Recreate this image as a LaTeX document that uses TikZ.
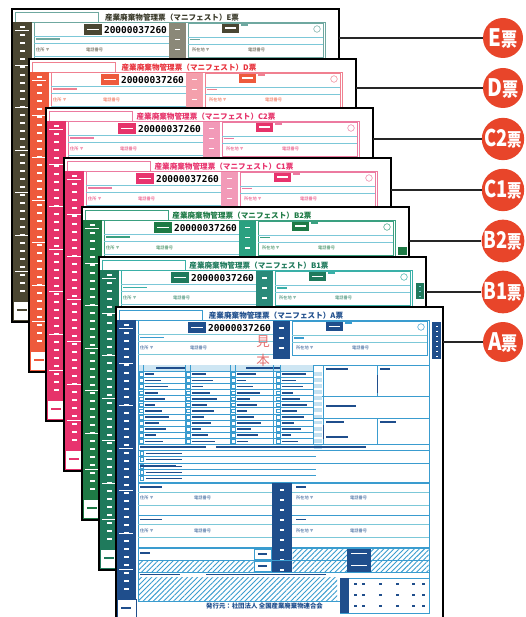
\documentclass[tikz,border=0pt]{standalone}
\usepackage{fontspec}
\usepackage{graphicx}
\newfontfamily\cjk{Noto Sans CJK JP}
\newfontfamily\digits{DejaVu Sans Mono}
\usetikzlibrary{patterns.meta}

% sheet colours: strip/labels, frame lines, title, tall column
\definecolor{mainE}{HTML}{4A4632}
\definecolor{frameE}{HTML}{6FA8A0}
\definecolor{titleE}{HTML}{3A3A2A}
\definecolor{colE}{HTML}{8A8878}
\definecolor{mainD}{HTML}{EE5A3C}
\definecolor{frameD}{HTML}{F08090}
\definecolor{titleD}{HTML}{E8323C}
\definecolor{colD}{HTML}{F4A0AC}
\definecolor{mainC2}{HTML}{E6336A}
\definecolor{mainC1}{HTML}{E8336E}
\definecolor{frameC}{HTML}{EC7AA0}
\definecolor{colC}{HTML}{F29AB8}
\definecolor{mainB2}{HTML}{1E7A45}
\definecolor{frameB2}{HTML}{3AA080}
\definecolor{colB2}{HTML}{2AA080}
\definecolor{mainB1}{HTML}{1F7A5C}
\definecolor{frameB1}{HTML}{3AB0A8}
\definecolor{colB1}{HTML}{2A8A7A}
\definecolor{mainA}{HTML}{1F4E8C}
\definecolor{frameA}{HTML}{3A9CCF}
\definecolor{cyanline}{HTML}{7CC8D8}
\definecolor{tagred}{HTML}{E8452A}
\definecolor{stampred}{HTML}{E05A5A}

\tikzset{
  sheet/.style={draw=black, line width=1.1pt, fill=white, minimum width=327pt,
    minimum height=313pt, anchor=north west, inner sep=0pt, outer sep=0pt},
  formtitle/.style={font=\cjk\bfseries\fontsize{7.6}{8}\selectfont, inner sep=0pt},
  tiny/.style={font=\cjk\fontsize{4.2}{5}\selectfont, inner sep=0pt, anchor=west},
  num/.style={font=\digits\bfseries\fontsize{9.5}{10}\selectfont, inner sep=0pt},
  tag/.style={circle, fill=tagred, minimum size=40pt, inner sep=0pt, text=white,
    font=\cjk\bfseries},
  conn/.style={draw=black!85, line width=1.3pt},
  hatch/.style={pattern={Lines[angle=45,distance=3.6pt,line width=.9pt]}, pattern color=frameA},
  footer/.style={font=\cjk\bfseries\fontsize{6.4}{7}\selectfont, inner sep=0pt, anchor=west},
}

% one manifest slip: #1,#2 top-left, #3 strip colour, #4 frame colour,
% #5 node name, #6 slip letter, #7 title colour, #8 column colour
\newcommand\manifest[8]{%
\begin{scope}[shift={(#1,#2)}]
  \node[sheet] (#5) at (0,0) {};
  \draw[#4, line width=.5pt] (3,3) rectangle (86,13);
  \node[formtitle, text=#7] at (160,8.5) {産業廃棄物管理票（マニフェスト）#6票};
  % left strip
  \fill[#3] (1,13) rectangle (20,292);
  \foreach \yy in {17,25,...,285} \fill[white] (8,\yy) rectangle (13,\yy+1.6);
  \foreach \yy in {21,56,98,141,183,226,262} \fill[white] (3,\yy) rectangle (17,\yy+1.3);
  \draw[#3, line width=.5pt] (1,292) rectangle (20,311);
  \fill[#3] (5,300) rectangle (15,301.5);
  % inner frame
  \draw[#4, line width=.6pt] (22,13) rectangle (313,294);
  % number row
  \fill[#3] (72,15) rectangle (90,26);
  \fill[white] (75,19.6) rectangle (87,21);
  \node[num] at (123.5,21) {20000037260};
  \fill[#8] (157,14) rectangle (174,52);
  \foreach \yy in {20,30,40} \fill[white] (163,\yy) rectangle (168,\yy+1.5);
  \fill[#3] (210,14) rectangle (227,24);
  \fill[white] (213,18.5) rectangle (224,20);
  \fill[#4] (229,15) rectangle (236,16.6);
  \draw[#4, line width=.5pt] (176,14) rectangle (311,48);
  \draw[#4, line width=.5pt] (305,20) circle (3.3);
  % row lines
  \draw[cyanline, line width=.6pt] (22,27.5) -- (157,27.5) (22,34) -- (157,34)
     (176,28) -- (311,28) (176,35) -- (311,35) (22,47) -- (157,47);
  \draw[#4, line width=.8pt] (22,58) -- (313,58);
  \fill[#4] (24,29.5) rectangle (48,31);
  \fill[#4] (178,30) rectangle (188,31.5);
  \node[tiny, text=#3] at (24,41) {住所 〒};
  \node[tiny, text=#3] at (74,41) {電話番号};
  \node[tiny, text=#3] at (180,41) {所在地 〒};
  \node[tiny, text=#3] at (236,41) {電話番号};
\end{scope}}

\begin{document}
\begin{tikzpicture}[x=1pt, y=-1pt]
\useasboundingbox (0,0) rectangle (525,617);
\clip (0,0) rectangle (525,617);

\manifest{12}{9}{mainE}{frameE}{E}{E}{titleE}{colE}
\manifest{29}{59}{mainD}{frameD}{D}{D}{titleD}{colD}
\manifest{46}{108}{mainC2}{frameC}{C2}{C2}{mainC2}{colC}
\manifest{64}{158}{mainC1}{frameC}{C1}{C1}{mainC1}{colC}
\manifest{82}{207}{mainB2}{frameB2}{B2}{B2}{mainB2}{colB2}
\begin{scope}[shift={(82,207)}]
  \fill[mainB2] (316,40) rectangle (325,48);
\end{scope}
\manifest{99}{257}{mainB1}{frameB1}{B1}{B1}{mainB1}{colB1}
\begin{scope}[shift={(99,257)}]
  \fill[mainB1] (317,26) rectangle (325,42);
  \foreach \yy in {29,34,39} \fill[cyanline] (320,\yy) rectangle (322,\yy+1.4);
\end{scope}
\manifest{116}{307}{mainA}{frameA}{A}{A}{mainA}{mainA}

% full body of the front slip
\begin{scope}[shift={(116,307)}]
  % right edge tab
  \fill[mainA] (316,15) rectangle (325,52);
  \foreach \yy in {19,24,...,49} \fill[white] (319.5,\yy) rectangle (321.5,\yy+1.4);
  % waste table, left half
  \fill[frameA!25] (22,58) rectangle (197,64);
  \fill[mainA] (40,59.5) rectangle (70,61.5);
  \fill[mainA] (130,59.5) rectangle (165,61.5);
  \foreach \k in {0,...,12} \draw[frameA, line width=.4pt] (22,64+6.1*\k) -- (197,64+6.1*\k);
  \foreach \x in {22,27,69,74,114,119,157,164,197} \draw[frameA, line width=.5pt] (\x,58) -- (\x,137);
  \foreach \c/\x in {0/29,1/76,2/121,3/166} {
    \foreach \k in {0,...,11} {
      \pgfmathsetmacro\len{9+mod(\k*7+\c*5,17)}
      \fill[mainA] (\x,66.4+6.1*\k) rectangle ++(\len,1.8);
      \draw[frameA, line width=.3pt] (\x-5.8,65.4+6.1*\k) rectangle ++(3.6,3.6);
    }
  }
  % waste table, right half
  \draw[frameA, line width=.5pt] (207,58) -- (207,137) (261,58) -- (261,89) (261,111) -- (261,137);
  \draw[frameA, line width=.5pt] (197,89) -- (313,89) (197,111) -- (313,111);
  \foreach \k in {0,...,12} \fill[frameA!30] (198,64.8+6.1*\k) rectangle (206,68.6+6.1*\k);
  \fill[mainA] (210,61) rectangle (232,62.8);
  \fill[mainA] (264,61) rectangle (274,62.8);
  \fill[mainA] (210,98) rectangle (240,99.8);
  \fill[mainA] (210,114) rectangle (228,115.8);
  \fill[mainA] (264,114) rectangle (280,115.8);
  \fill[mainA] (210,129) rectangle (232,130.8);
  \draw[mainA, line width=.6pt] (261,68) -- (261,86) (207,118) -- (207,132);
  % transfer rows
  \draw[frameA, line width=.9pt] (22,137) -- (313,137);
  \draw[frameA, line width=.4pt] (22,143) -- (313,143) (22,149) -- (200,149) (22,162) -- (200,162) (22,168) -- (200,168);
  \draw[frameA, line width=.9pt] (22,156) -- (313,156);
  \fill[mainA] (24,139) rectangle (90,140.8);
  \fill[mainA] (100,139) rectangle (250,140.8);
  \foreach \yy in {144.5,150.5,157.5,163.5,169.5} {
    \draw[frameA, line width=.3pt] (24,\yy) rectangle ++(3.5,3.5);
    \fill[mainA] (30,\yy+1) rectangle ++(36,1.7);
  }
  \fill[mainA] (24,158) rectangle (60,159.6);
  % address blocks
  \draw[frameA, line width=1.1pt] (22,176) -- (313,176) (22,208.5) -- (313,208.5) (22,241) -- (313,241);
  \fill[mainA] (156,176) rectangle (176,265);
  \foreach \yy in {182,192,...,262} \fill[white] (164,\yy) rectangle (168,\yy+1.5);
  \foreach \b in {0,32.5} {
    \fill[mainA] (24,179+\b) rectangle (46,180.8+\b);
    \fill[mainA] (180,179+\b) rectangle (190,180.8+\b);
    \draw[cyanline, line width=.5pt] (22,185+\b) -- (156,185+\b) (176,185+\b) -- (313,185+\b)
       (22,198+\b) -- (156,198+\b) (176,198+\b) -- (313,198+\b);
    \node[tiny, text=mainA] at (24,191+\b) {住所 〒};
    \node[tiny, text=mainA] at (78,191+\b) {電話番号};
    \node[tiny, text=mainA] at (180,191+\b) {所在地 〒};
    \node[tiny, text=mainA] at (234,191+\b) {電話番号};
  }
  % receipt and disposal rows
  \draw[frameA, line width=.6pt] (22,253) -- (313,253) (22,265) -- (313,265);
  \fill[mainA] (24,245) rectangle (34,246.8);
  \draw[frameA, line width=.4pt] (138,242) rectangle (155,252) (138,254) rectangle (155,264);
  \fill[mainA] (142,246) rectangle (151,247.6);
  \fill[mainA] (142,258) rectangle (151,259.6);
  \fill[hatch] (22,253.5) rectangle (137.5,264.5);
  \fill[hatch] (176.5,241.5) rectangle (231,264.5);
  \fill[mainA] (231,241.5) rectangle (255,265);
  \foreach \yy in {246,258} \fill[white] (235,\yy) rectangle (251,\yy+1.4);
  \fill[hatch] (255,241.5) rectangle (312.5,264.5);
  \fill[mainA] (24,266.5) rectangle (64,268.2);
  \fill[mainA] (90,266.5) rectangle (210,268.2);
  \fill[hatch] (22.5,270) rectangle (221,293.5);
  % seal box
  \draw[frameA, line width=.7pt, fill=white] (224,271) rectangle (313,306);
  \fill[mainA] (224,271) rectangle (233,306);
  \foreach \yy in {276,287,298} {
    \foreach \xx in {238,246,263,280,296,306} \fill[mainA] (\xx,\yy) rectangle ++(3,1.8);
  }
  \node[footer, text=mainA] at (90,299.5) {発行元：社団法人 全国産業廃棄物連合会};
  % sample stamp
  \node[font=\cjk\fontsize{13.5}{19}\selectfont, text=stampred, opacity=.85,
        align=center, inner sep=0pt] (stamp) at (147,44) {見\\本};
\end{scope}

% slip tags on the right
\node[tag] (tE) at (503,38) {\scalebox{.85}[1]{\fontsize{24}{24}\selectfont E\fontsize{19}{19}\selectfont 票}};
\node[tag] (tD) at (503,88) {\scalebox{.85}[1]{\fontsize{24}{24}\selectfont D\fontsize{19}{19}\selectfont 票}};
\node[tag] (tC2) at (503,139) {\scalebox{.8}[1]{\fontsize{23}{23}\selectfont C2\fontsize{18}{18}\selectfont 票}};
\node[tag] (tC1) at (503,190) {\scalebox{.8}[1]{\fontsize{23}{23}\selectfont C1\fontsize{18}{18}\selectfont 票}};
\node[tag] (tB2) at (503,241) {\scalebox{.8}[1]{\fontsize{23}{23}\selectfont B2\fontsize{18}{18}\selectfont 票}};
\node[tag] (tB1) at (503,292) {\scalebox{.8}[1]{\fontsize{23}{23}\selectfont B1\fontsize{18}{18}\selectfont 票}};
\node[tag] (tA) at (503,342) {\scalebox{.85}[1]{\fontsize{24}{24}\selectfont A\fontsize{19}{19}\selectfont 票}};

\foreach \s in {E,D,C2,C1,B2,B1,A}
  \draw[conn] (\s.east |- t\s.west) -- (t\s.west);
\end{tikzpicture}
\end{document}
